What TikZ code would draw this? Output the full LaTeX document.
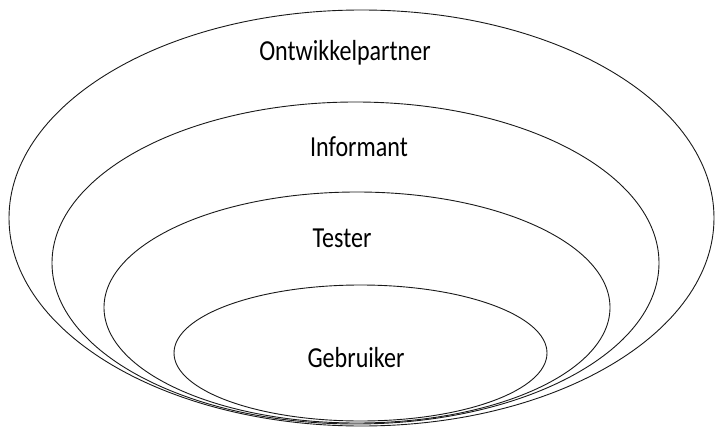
\documentclass[tikz,border=0pt]{standalone}
\usepackage{fontspec}
\setmainfont{Carlito}
\newfontfamily\ringfont[FakeStretch=0.83]{Carlito}

\tikzset{
    ring/.style={draw=black!90, line width=0.9pt},
    label/.style={font=\ringfont\fontsize{29}{33}\selectfont, inner sep=0pt}
}

\begin{document}
\begin{tikzpicture}[x=1pt, y=-1pt]

    \useasboundingbox (0, 0) rectangle (715, 428);

    % Draw the rings, outer one first
    \foreach \cx/\cy/\rx/\ry in {361.5/218/352.5/208, 355.5/263/303.5/161, 357/307.5/253/115.5, 360.5/353/186.5/68}{
        \draw[ring] (\cx, \cy) ellipse [x radius=\rx, y radius=\ry];
    }

    % Make the ring names
    \node[label] (partner) at (345, 53) {Ontwikkelpartner};
    \node[label] (informant) at (359, 147) {Informant};
    \node[label] (tester) at (342, 238) {Tester};
    \node[label] (gebruiker) at (356, 358) {Gebruiker};

\end{tikzpicture}
\end{document}
